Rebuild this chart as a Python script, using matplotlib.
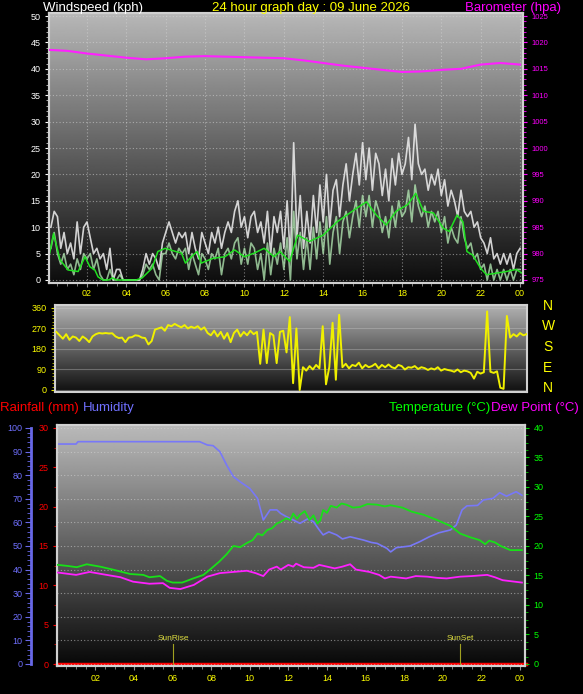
import numpy as np
import matplotlib
matplotlib.use("Agg")
import matplotlib.pyplot as plt
from matplotlib.ticker import MultipleLocator, FixedLocator

plt.rcParams['font.family'] = ['Liberation Sans', 'DejaVu Sans']

# ---------------- data ----------------
hour_ticks = [2, 4, 6, 8, 10, 12, 14, 16, 18, 20, 22, 24]
hour_labels = ['02', '04', '06', '08', '10', '12', '14', '16', '18', '20', '22', '00']

# 10 minute samples for wind
wind_hours = np.arange(1, 145) / 6.0
gust_kph = [10, 13, 12, 6, 9, 5,  7, 4, 11, 5, 10, 11,  8, 5, 6, 4, 5, 2,
            6, 0, 2, 2, 0, 0,  0, 0, 0, 0, 2, 5,  3, 5, 4, 2, 7, 9,
            11, 9, 7, 9, 8, 9,  5, 9, 6, 4, 9, 7,  5, 9, 7, 10, 6, 9,
            11, 9, 13, 15, 10, 12,  8, 12, 13, 9, 11, 7,  13, 5, 12, 9, 13, 6,
            15, 4, 26, 8, 16, 6,  13, 7, 16, 9, 18, 11,  20, 10, 17, 19, 12, 18,
            22, 15, 20, 24, 18, 26,  19, 25, 17, 24, 22, 16,  21, 15, 23, 18, 24, 20,
            22, 27, 19, 29.5, 22, 20,  21, 17, 20, 18, 21, 16,  19, 14, 17, 15, 12, 17,
            13, 12, 13, 10, 11, 8,  7, 5, 8, 4, 5, 3,  5, 3, 5, 2, 5, 6]
speed_kph = [6, 9, 5, 3, 5, 2,  3, 1, 4, 2, 5, 4,  5, 2, 4, 1, 0, 0,
             2, 0, 0, 1, 0, 0,  0, 0, 0, 0, 1, 3,  2, 3, 1, 0, 5, 5,
             7, 5, 4, 6, 5, 6,  2, 5, 3, 1, 5, 4,  2, 5, 4, 6, 1, 5,
             6, 4, 7, 8, 3, 6,  3, 7, 6, 2, 5, 0,  7, 1, 6, 3, 7, 2,
             8, 0, 13, 4, 9, 2,  8, 2, 10, 4, 11, 5,  12, 3, 9, 12, 5, 11,
             13, 8, 12, 15, 10, 16,  12, 16, 10, 15, 13, 9,  12, 8, 14, 10, 15, 12,
             13, 17, 11, 18, 14, 12,  14, 10, 13, 11, 13, 9,  12, 7, 10, 8, 7, 12,
             8, 6, 7, 4, 5, 2,  3, 0, 3, 0, 2, 0,  2, 0, 2, 0, 2, 2]
avg_hours = [0.1, 0.3, 0.63, 1.04, 1.55, 1.9, 2.15, 2.4, 2.56, 2.8, 3.1, 3.3, 3.5, 4.5, 4.8,
             5.3, 5.6, 5.97, 6.5, 6.8, 7.0, 7.3, 7.6, 7.8, 8.4, 9.0, 9.5, 10.0, 10.5, 11.0,
             11.5, 11.8, 12.3, 12.7, 13.3, 14.0, 14.7, 15.2, 15.7, 16.2, 16.7, 17.2, 17.7,
             18.3, 18.7, 19.1, 19.6, 20.1, 20.4, 20.8, 21.1, 21.3, 21.6, 22.0, 22.3, 22.8,
             23.3, 23.8, 24.1]
avg_kph = [5, 8.8, 3.8, 1.9, 1.6, 4.4, 2.5, 1.9, 0.6, 0, 0, 0.4, 0, 0, 0.4,
           2.2, 5.4, 6, 5.4, 5.1, 3.2, 4.4, 5.4, 3.2, 4.1, 4.4, 5.7, 4.4, 5.1, 6,
           4.4, 5.4, 3.5, 8.5, 7.3, 8.5, 11, 12.3, 13.6, 14.8, 12.3, 10.4, 13,
           14.3, 16.4, 13, 12.7, 9.8, 9.2, 12.3, 11, 5.4, 4.7, 2.2, 1, 1.3,
           1.6, 2, 1.3]

baro_hours = list(range(25))
baro_hpa = [1018.6, 1018.4, 1017.9, 1017.5, 1017.1, 1016.8, 1017.0, 1017.3, 1017.4,
            1017.3, 1017.2, 1017.1, 1017.0, 1016.6, 1016.1, 1015.6, 1015.2, 1014.8,
            1014.4, 1014.5, 1014.8, 1015.0, 1015.8, 1016.1, 1015.8]

dir_deg = [255, 240, 225, 245, 220, 235,  230, 215, 235, 225, 210, 235,
           245, 250, 248, 250, 248, 249,  235, 228, 230, 210, 230, 232,
           240, 238, 230, 228, 200, 215,  265, 270, 275, 260, 285, 280,
           290, 282, 275, 285, 270, 278,  272, 280, 265, 275, 250, 240,
           260, 235, 255, 225, 250, 210,  250, 265, 235, 255, 240, 260,
           245, 255, 115, 265, 118, 250,  240, 118, 255, 260, 165, 320,
           30, 270, 0, 100, 85, 105,  90, 110, 95, 280, 25, 100,
           295, 45, 330, 100, 115, 95,  110, 105, 120, 95, 110, 100,
           105, 115, 95, 110, 100, 112,  100, 95, 110, 105, 90, 100,
           98, 105, 92, 100, 96, 88,  95, 90, 100, 85, 92, 88,
           85, 80, 90, 78, 85, 82,  75, 50, 80, 72, 78, 345,
           80, 75, 82, 10, 5, 325,  230, 245, 235, 250, 240, 245]
compass = ['N', 'W', 'S', 'E', 'N']

temp_hours = [0.05, 0.6, 1.03, 1.55, 2.24, 2.9, 3.8, 4.48, 4.8, 5.35, 5.7, 6.0, 6.5, 7.07,
              7.6, 7.9, 8.4, 8.8, 9.15, 9.5, 9.85, 10.15, 10.4, 10.65, 10.9, 11.15, 11.4,
              11.6, 11.9, 12.1, 12.25, 12.45, 12.6, 12.85, 13.1, 13.3, 13.5, 13.65, 13.8,
              14.0, 14.2, 14.5, 14.75, 15.0, 15.35, 15.7, 16.1, 16.6, 17.0, 17.3, 17.9,
              18.4, 19.0, 19.7, 20.4, 20.9, 21.4, 21.9, 22.2, 22.4, 22.7, 23.0, 23.5, 24.1]
temp_c = [16.8, 16.6, 16.4, 16.9, 16.5, 16.0, 15.25, 15.1, 14.7, 14.9, 14.1, 13.8, 13.8, 14.5,
          15.1, 15.9, 17.3, 18.6, 20.0, 19.8, 20.5, 21.0, 22.1, 21.8, 22.7, 23.0, 23.8,
          24.1, 24.7, 24.4, 25.5, 24.6, 25.3, 25.9, 24.4, 25.2, 23.8, 24.3, 26.1,
          25.6, 26.8, 26.5, 27.2, 27.0, 26.5, 26.6, 27.1, 27.0, 26.7, 26.9, 26.5,
          25.8, 25.3, 24.4, 23.4, 22.1, 21.5, 21.0, 20.3, 20.9, 20.6, 20.0, 19.3, 19.3]

dew_hours = [0.05, 1.0, 1.7, 2.4, 3.3, 3.95, 4.8, 5.5, 5.85, 6.4, 7.1, 7.8, 8.45, 9.15, 9.85,
             10.3, 10.7, 11.0, 11.4, 11.6, 12.0, 12.25, 12.4, 12.8, 13.3, 13.6, 14.0, 14.4,
             14.8, 15.2, 15.5, 16.2, 16.7, 17.0, 17.3, 18.1, 18.6, 19.2, 19.7, 20.2, 20.9,
             21.5, 22.3, 22.7, 23.1, 24.1]
dew_c = [15.5, 15.1, 15.6, 15.2, 14.7, 13.95, 13.6, 13.7, 12.9, 12.7, 13.4, 14.8, 15.4, 15.6, 15.8,
         15.4, 14.9, 16.0, 16.5, 16.0, 16.8, 16.5, 17.0, 16.4, 16.3, 16.8, 16.5, 16.2,
         16.5, 16.9, 16.0, 15.6, 15.1, 14.5, 14.8, 14.5, 14.9, 14.8, 14.6, 14.5, 14.8,
         14.9, 15.1, 14.7, 14.2, 13.8]

hum_hours = [0.05, 1.0, 1.1, 7.4, 7.8, 8.1, 8.45, 8.8, 9.15, 9.5, 10.0, 10.4, 10.7, 11.05,
             11.4, 11.6, 11.9, 12.25, 12.6, 13.0, 13.3, 13.6, 13.8, 14.1, 14.5, 14.8, 15.2,
             15.9, 16.3, 16.6, 17.1, 17.3, 17.6, 18.3, 18.8, 19.3, 19.8, 20.4, 20.7, 21.0,
             21.25, 21.8, 22.1, 22.6, 22.95, 23.3, 23.8, 24.1]
hum_pct = [93.2, 93.2, 94.2, 94.2, 92.8, 92.5, 90.0, 84.3, 79.4, 77.2, 74.4, 70.2, 61.0, 65.3,
           65.3, 63.8, 62.4, 61.0, 59.6, 61.5, 60.3, 56.8, 54.7, 56.0, 54.7, 53.0, 53.9,
           52.5, 51.5, 51.1, 49.0, 47.5, 49.3, 50.0, 51.8, 53.9, 55.6, 56.8, 58.9, 65.3,
           67.0, 67.2, 69.5, 70.2, 72.6, 71.1, 73.0, 71.5]

rain_hours = [0.0, 24.3]
rain_mm = [0.0, 0.0]

sun_labels = ['SunRise', 'SunSet']
sun_hours = [6.02, 20.89]

# ---------------- figure ----------------
W, H = 583, 694
fig = plt.figure(figsize=(W / 100, H / 100), dpi=100, facecolor='black')


def box(l, t, r, b):
    return [l / W, 1 - b / H, (r - l) / W, (b - t) / H]


def shade(ax, top, bottom):
    grad = np.linspace(top, bottom, 256).reshape(-1, 1)
    ax.imshow(grad, cmap='gray', vmin=0, vmax=1, aspect='auto', extent=(0, 1, 0, 1),
              transform=ax.transAxes, zorder=0, interpolation='bilinear')


def frame(ax):
    for s in ax.spines.values():
        s.set_color('#d0d0d0')
        s.set_linewidth(1.5)


grid_kw = dict(color='#d8d8d8', linestyle=(0, (1, 2)), linewidth=0.8, alpha=0.55)

# ---- windspeed / barometer ----
ax1 = fig.add_axes(box(49, 13, 523, 283))
shade(ax1, 0.72, 0.05)
ax1.plot(wind_hours, gust_kph, color='#f0f0f0', lw=1.2, alpha=0.85, zorder=3)
ax1.plot(wind_hours, speed_kph, color='#b8f0b8', lw=1.2, alpha=0.75, zorder=4)
ax1.plot(avg_hours, avg_kph, color='#20e020', lw=1.1, zorder=5)
ax1.set_xlim(0.07, 24.15)
ax1.set_ylim(-0.57, 50.57)
ax1.yaxis.set_major_locator(MultipleLocator(5))
ax1.yaxis.set_minor_locator(MultipleLocator(1))
ax1.xaxis.set_major_locator(FixedLocator(hour_ticks))
ax1.xaxis.set_minor_locator(MultipleLocator(0.5))
ax1.set_xticklabels(hour_labels)
ax1.grid(True, which='major', **grid_kw)
ax1.tick_params(axis='y', colors='white', labelsize=6.5, length=3, pad=3)
ax1.tick_params(axis='y', which='minor', colors='#d0d0d0', length=2)
ax1.tick_params(axis='x', colors='#909090', labelcolor='yellow', labelsize=6.5, length=3, pad=1.5)
ax1.tick_params(axis='x', which='minor', colors='#909090', length=2)
frame(ax1)

ax1b = ax1.twinx()
ax1b.plot(baro_hours, baro_hpa, color='#ff20ff', lw=1.5, zorder=6)
ax1b.set_ylim(975 - 0.57, 1025 + 0.57)
ax1b.yaxis.set_major_locator(MultipleLocator(5))
ax1b.yaxis.set_minor_locator(MultipleLocator(1))
ax1b.tick_params(axis='y', colors='#ff00ff', labelsize=5.5, length=3, pad=3)
ax1b.tick_params(axis='y', which='minor', colors='#ff00ff', length=2)
ax1b.set_xlim(0.07, 24.15)
frame(ax1b)

fig.text(43 / W, 1 - 8 / H, 'Windspeed (kph)', color='white', fontsize=9.5, va='center')
fig.text(311 / W, 1 - 8 / H, '24 hour graph day : 09 June 2026', color='yellow',
         fontsize=9.5, va='center', ha='center')
fig.text(561 / W, 1 - 8 / H, 'Barometer (hpa)', color='#ff00ff', fontsize=9.5,
         va='center', ha='right')

# ---- wind direction ----
ax2 = fig.add_axes(box(55, 305, 527, 392))
shade(ax2, 0.70, 0.06)
ax2.plot(wind_hours, dir_deg, color='#f0f000', lw=1.4, zorder=3)
ax2.set_xlim(0.1, 24.02)
ax2.set_ylim(-8.8, 373)
ax2.yaxis.set_major_locator(FixedLocator([0, 90, 180, 270, 360]))
ax2.yaxis.set_minor_locator(MultipleLocator(15))
ax2.set_xticks([])
ax2.grid(True, axis='y', which='major', color='#d0d0d0', linewidth=0.8, alpha=0.35)
ax2.tick_params(axis='y', colors='#e0e000', labelcolor='yellow', labelsize=6.5, length=3, pad=3)
ax2.tick_params(axis='y', which='minor', colors='#c0c000', length=2)
frame(ax2)
for i, c in enumerate(compass):
    fig.text(548 / W, 1 - (306 + i * 20.5) / H, c, color='yellow', fontsize=10,
             ha='center', va='center')

# ---- rain / humidity / temperature / dew point ----
ax3 = fig.add_axes(box(57, 425, 525, 666))
shade(ax3, 0.73, 0.03)
ax3.plot(rain_hours, rain_mm, color='#ff0000', lw=2.5, zorder=3, clip_on=False)
ax3.set_xlim(0.01, 24.26)
ax3.set_ylim(-0.254, 30.38)
ax3.yaxis.set_major_locator(MultipleLocator(5))
ax3.yaxis.set_minor_locator(MultipleLocator(2.5))
ax3.xaxis.set_major_locator(FixedLocator(hour_ticks))
ax3.xaxis.set_minor_locator(MultipleLocator(0.5))
ax3.set_xticklabels(hour_labels)
ax3.tick_params(axis='y', colors='#ff0000', labelsize=6.5, length=3, pad=3)
ax3.tick_params(axis='y', which='minor', colors='#d00000', length=2)
ax3.tick_params(axis='x', colors='#909090', labelcolor='yellow', labelsize=6.5, length=3, pad=3)
ax3.tick_params(axis='x', which='minor', colors='#909090', length=2)
frame(ax3)

ax3h = ax3.twinx()
ax3h.plot(hum_hours, hum_pct, color='#7878f8', lw=1.2, zorder=4)
ax3h.set_ylim(-0.85, 101.27)
ax3h.set_xlim(0.01, 24.26)
ax3h.yaxis.set_ticks_position('left')
ax3h.spines['left'].set_position(('axes', -26 / 468))
ax3h.spines['left'].set_visible(True)
ax3h.spines['left'].set_color('#6868e8')
ax3h.spines['left'].set_linewidth(2)
ax3h.spines['left'].set_bounds(0, 100)
for s in ['right', 'top', 'bottom']:
    ax3h.spines[s].set_visible(False)
ax3h.yaxis.set_major_locator(MultipleLocator(10))
ax3h.yaxis.set_minor_locator(MultipleLocator(2))
ax3h.grid(True, axis='y', which='major', **grid_kw)
ax3h.grid(True, axis='x', which='major', **grid_kw)
ax3h.xaxis.set_major_locator(FixedLocator(hour_ticks))
ax3h.tick_params(axis='x', bottom=False, labelbottom=False)
ax3h.tick_params(axis='y', colors='#6868e8', labelcolor='#7070ff', labelsize=6.5, length=4, pad=2)
ax3h.tick_params(axis='y', which='minor', colors='#6868e8', length=3)

ax3t = ax3.twinx()
ax3t.plot(temp_hours, temp_c, color='#18e018', lw=1.3, zorder=5)
ax3t.plot(dew_hours, dew_c, color='#ff20ff', lw=1.3, zorder=5)
ax3t.set_ylim(-0.34, 40.5)
ax3t.set_xlim(0.01, 24.26)
ax3t.yaxis.set_major_locator(MultipleLocator(5))
ax3t.yaxis.set_minor_locator(MultipleLocator(1.25))
ax3t.tick_params(axis='y', colors='#00d000', labelcolor='#00ff00', labelsize=6.5, length=3, pad=3)
ax3t.tick_params(axis='y', which='minor', colors='#00c000', length=2)
frame(ax3t)
for lab, h in zip(sun_labels, sun_hours):
    ax3t.plot([h, h], [0, 3.4], color='#a0a020', lw=0.8, zorder=4)
    ax3t.text(h, 4.4, lab, color='#e0e040', fontsize=6, ha='center', va='center')

fig.text(0 / W, 1 - 408 / H, 'Rainfall (mm)', color='#ff0000', fontsize=9.5, va='center')
fig.text(83 / W, 1 - 408 / H, 'Humidity', color='#7070ff', fontsize=9.5, va='center')
fig.text(490 / W, 1 - 408 / H, 'Temperature (°C)', color='#00ff00', fontsize=9.5,
         va='center', ha='right')
fig.text(491 / W, 1 - 408 / H, 'Dew Point (°C)', color='#ff00ff', fontsize=9.5, va='center')

fig.savefig('out.png', dpi=100, facecolor='black')
